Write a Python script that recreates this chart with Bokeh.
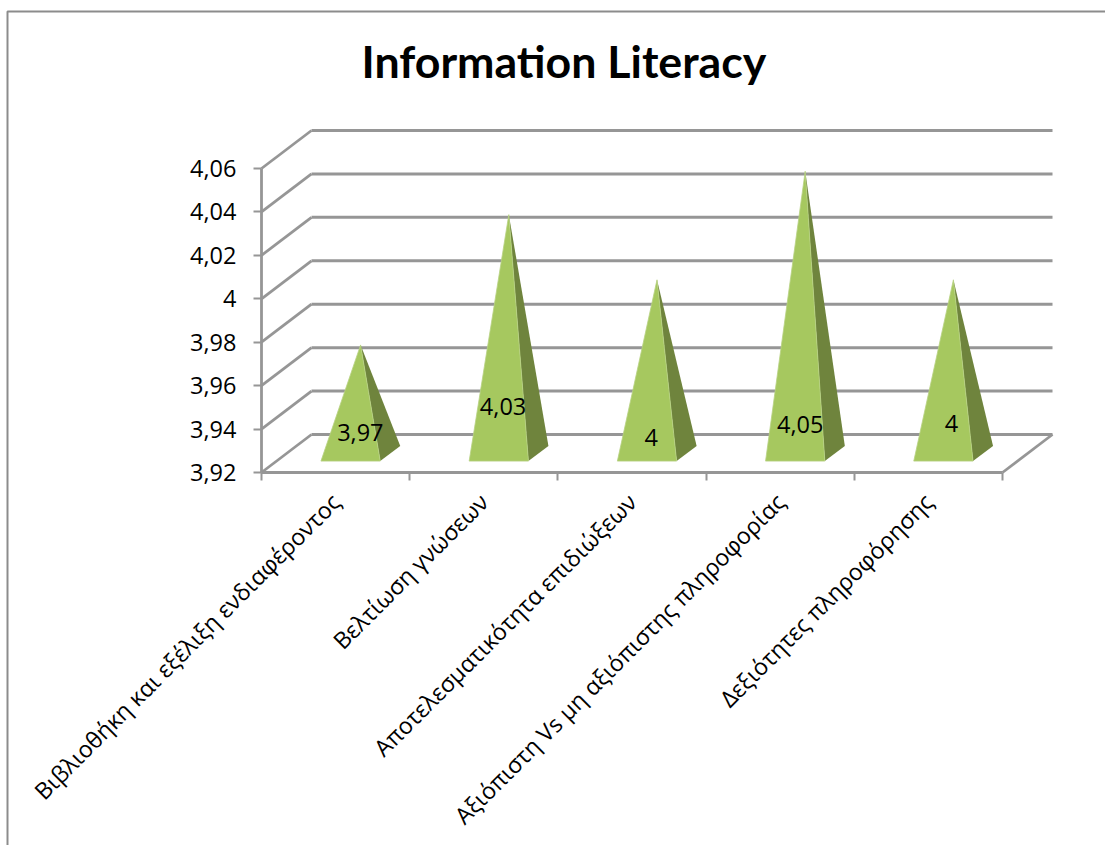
from math import radians

from bokeh.embed import file_html
from bokeh.models import ColumnDataSource, FixedTicker, Range1d
from bokeh.plotting import figure
from bokeh.resources import INLINE
from bokeh.core.properties import value

CHART_TITLE = "Information Literacy"
categories = [
    "Βιβλιοθήκη και εξέλιξη ενδιαφέροντος",
    "Βελτίωση γνώσεων",
    "Αποτελεσματικότητα επιδιώξεων",
    "Αξιόπιστη Vs μη αξιόπιστης πληροφορίας",
    "Δεξιότητες πληροφόρησης",
]
series_values = [3.97, 4.03, 4.00, 4.05, 4.00]
value_labels = ["3,97", "4,03", "4", "4,05", "4"]
y_ticks = [3.92, 3.94, 3.96, 3.98, 4.00, 4.02, 4.04, 4.06]
y_tick_labels = ["3,92", "3,94", "3,96", "3,98", "4", "4,02", "4,04", "4,06"]

# Where each value label sits on its pyramid (axis units)
label_dx = [0.167, 0.13, 0.13, 0.135, 0.155]
label_level = [3.9385, 3.9505, 3.9362, 3.9421, 3.9426]

W, H = 1105, 845
ORIGIN_X, ORIGIN_Y = 261, 472        # canvas position of the axes' corner
PX_PER_CAT = 148.2
PX_PER_UNIT = 304 / 0.14
DEPTH_X = 50 / PX_PER_CAT            # oblique projection of the chart's depth
DEPTH_Y = 38 / PX_PER_UNIT
Y_MIN, Y_MAX = y_ticks[0], y_ticks[-1]
N = len(categories)

GRID = "#969696"
FRONT = "#a6c85f"
SIDE = "#6f843d"
LABEL_FONT = "Open Sans"
LABEL_SIZE = "23.5px"


def canvas_x(px):
    return (px - ORIGIN_X) / PX_PER_CAT


def canvas_y(py):
    return Y_MIN + (ORIGIN_Y - py) / PX_PER_UNIT


def project(x, level, depth):
    return x + depth * DEPTH_X, level + depth * DEPTH_Y


p = figure(
    width=W, height=H, output_backend="svg", toolbar_location=None,
    x_range=Range1d(canvas_x(0), canvas_x(W)),
    y_range=Range1d(canvas_y(H), canvas_y(0)),
    min_border=0, outline_line_color=None,
)
p.grid.visible = False
p.background_fill_color = "white"

# Chart area border: left and top edges
p.line([canvas_x(7), canvas_x(7), canvas_x(W)],
       [canvas_y(H), canvas_y(11), canvas_y(11)],
       line_color="#8c8c8c", line_width=2)

# Back wall gridlines and the side-wall diagonals
back_xs = [[project(0, t, 1)[0], project(N, t, 1)[0]] for t in y_ticks]
back_ys = [[project(0, t, 1)[1], project(N, t, 1)[1]] for t in y_ticks]
p.multi_line(back_xs, back_ys, line_color=GRID, line_width=3)
side_xs = [[0, project(0, t, 1)[0]] for t in y_ticks]
side_ys = [[t, project(0, t, 1)[1]] for t in y_ticks]
p.multi_line(side_xs, side_ys, line_color=GRID, line_width=2.8)

# Right edge of the floor
p.line([N, project(N, Y_MIN, 1)[0]], [Y_MIN, project(N, Y_MIN, 1)[1]],
       line_color=GRID, line_width=2.8)

# Pyramids: the visible front and right faces
front_xs, front_ys, side_face_xs, side_face_ys = [], [], [], []
BASE_WIDTH = 0.4
NEAR, FAR = 0.3, 0.7
for i, v in enumerate(series_values):
    c = i + 0.5
    apex = project(c, v, 0.5)
    fl = project(c - BASE_WIDTH / 2, Y_MIN, NEAR)
    fr = project(c + BASE_WIDTH / 2, Y_MIN, NEAR)
    br = project(c + BASE_WIDTH / 2, Y_MIN, FAR)
    front_xs.append([apex[0], fl[0], fr[0]])
    front_ys.append([apex[1], fl[1], fr[1]])
    side_face_xs.append([apex[0], fr[0], br[0]])
    side_face_ys.append([apex[1], fr[1], br[1]])
p.patches(side_face_xs, side_face_ys, fill_color=SIDE, line_color=None)
p.patches(front_xs, front_ys, fill_color=FRONT, line_color="#b7d283", line_width=0.8, line_join="bevel")

# Value labels
labels = ColumnDataSource(dict(
    x=[i + 0.5 + d for i, d in enumerate(label_dx)],
    y=label_level,
    text=value_labels,
))
p.text("x", "y", "text", source=labels, text_align="center", text_baseline="middle",
       text_font=value(LABEL_FONT), text_font_size=LABEL_SIZE, text_color="black")

# Value axis
yax = p.yaxis[0]
yax.fixed_location = 0
yax.bounds = (Y_MIN, Y_MAX)
yax.ticker = FixedTicker(ticks=y_ticks, minor_ticks=[])
yax.major_label_overrides = dict(zip(y_ticks, y_tick_labels))
yax.major_tick_out, yax.major_tick_in = 8, 0
yax.major_tick_line_color = GRID
yax.major_tick_line_width = 2
yax.axis_line_color = GRID
yax.axis_line_width = 2.8
yax.major_label_text_font = LABEL_FONT
yax.major_label_text_font_size = LABEL_SIZE
yax.major_label_text_color = "black"
yax.major_label_standoff = 17

# Category axis: tick marks at the category boundaries, labels at their centres
xax = p.xaxis[0]
xax.fixed_location = Y_MIN
xax.bounds = (0, N)
xax.ticker = FixedTicker(ticks=[i + 0.5 for i in range(N)], minor_ticks=list(range(N + 1)))
xax.major_label_overrides = {i + 0.5: c for i, c in enumerate(categories)}
xax.major_label_orientation = radians(45)
xax.major_tick_out = xax.major_tick_in = 0
xax.minor_tick_out, xax.minor_tick_in = 8, 0
xax.minor_tick_line_color = GRID
xax.minor_tick_line_width = 2
xax.axis_line_color = GRID
xax.axis_line_width = 2.8
xax.major_label_text_font = LABEL_FONT
xax.major_label_text_font_size = "23.2px"
xax.major_label_text_color = "black"
xax.major_label_standoff = 17

# Chart title
p.text([canvas_x(563.5)], [canvas_y(60)], [CHART_TITLE], text_align="center", text_baseline="middle",
       text_font=value("Lato"), text_font_style="bold", text_font_size="44.7px", text_color="black")

open("out.html", "w").write(file_html(p, INLINE))
